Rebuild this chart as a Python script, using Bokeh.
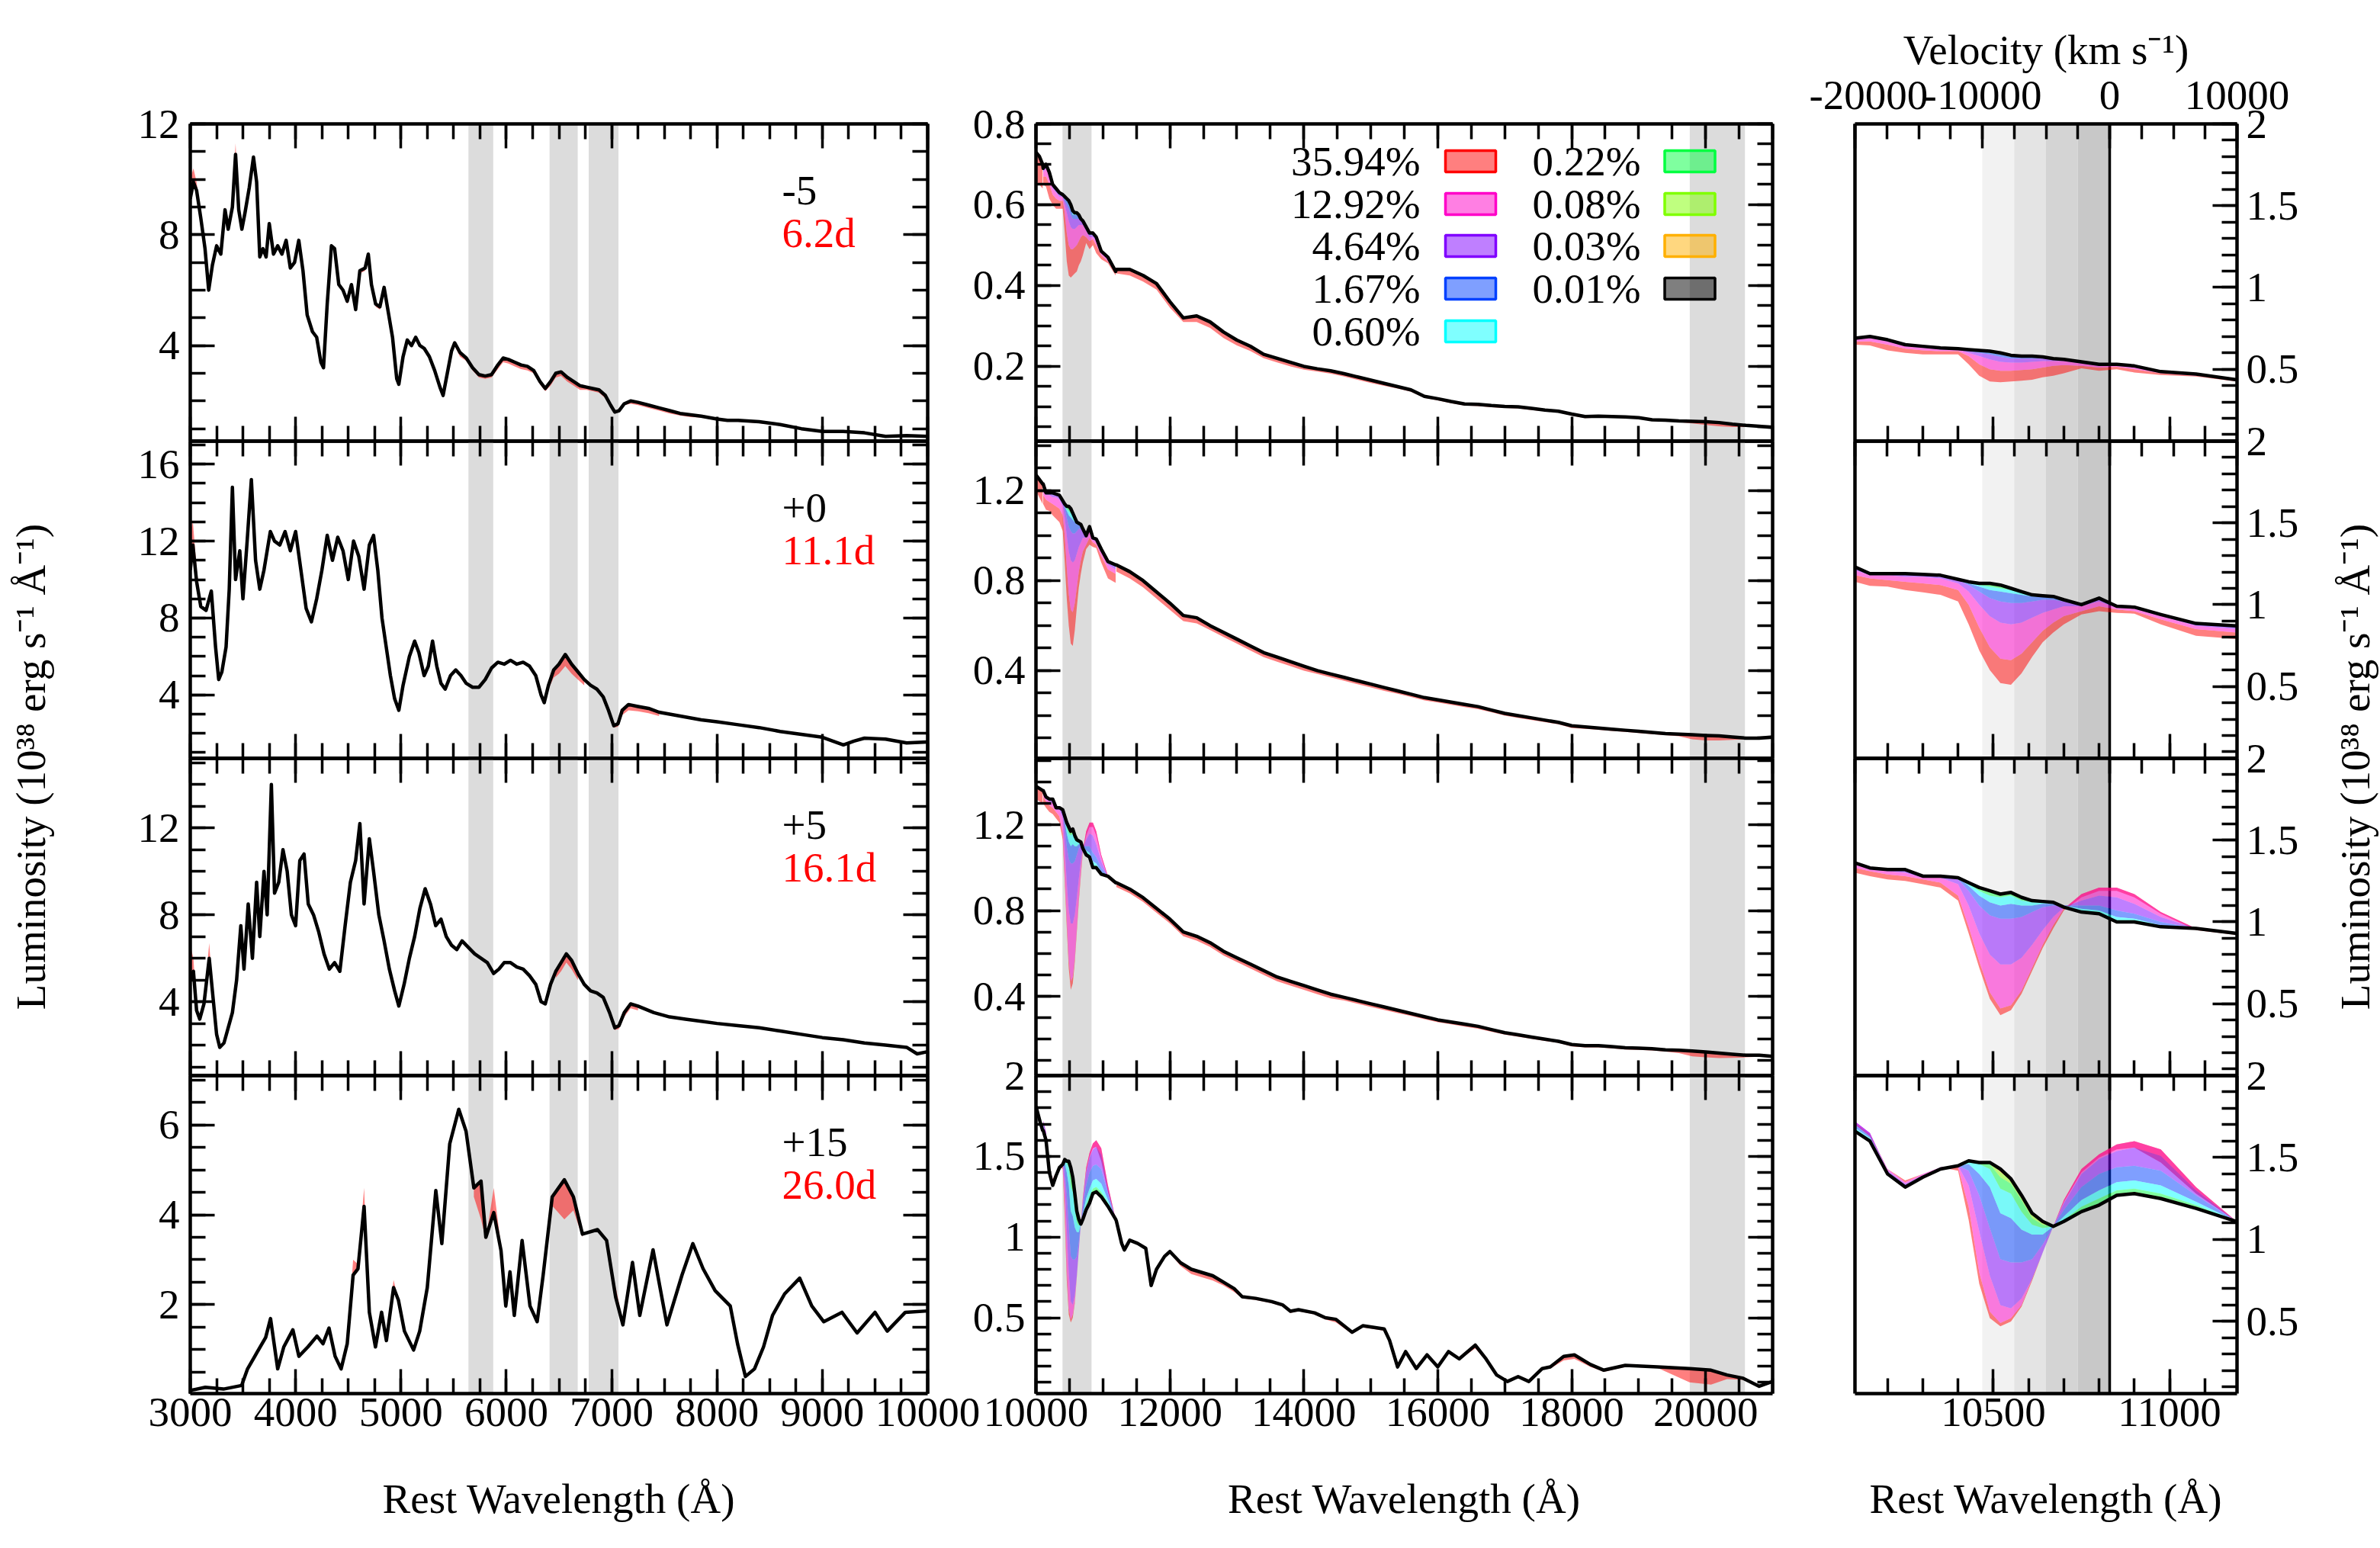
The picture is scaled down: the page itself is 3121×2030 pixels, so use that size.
import math
from bokeh.plotting import figure
from bokeh.models import (Range1d, LinearAxis, SingleIntervalTicker, CustomJSTickFormatter,
                          BoxAnnotation, Span)
from bokeh.layouts import row, column
from bokeh.embed import file_html
from bokeh.resources import INLINE
from bokeh.core.properties import value

FONT = "Liberation Serif"
FS = "55px"
C_KMS = 299792.458

# ---------------- labels / categories ----------------
MODELS = ["35.94%", "12.92%", "4.64%", "1.67%", "0.60%", "0.22%", "0.08%", "0.03%", "0.01%"]
COLORS = ["#ff0000", "#ff00c8", "#8000ff", "#0040ff", "#00ffff", "#00ff40", "#80ff00", "#ffb000", "#000000"]
PHASES = ["-5", "+0", "+5", "+15"]
EPOCHS = ["6.2d", "11.1d", "16.1d", "26.0d"]
YTITLE = "Luminosity (10\u00b3\u2078 erg s\u207b\u00b9 \u00c5\u207b\u00b9)"
XTITLE = "Rest Wavelength (\u00c5)"
VTITLE = "Velocity (km s\u207b\u00b9)"

HE_OPT = [5876, 6678, 7065]
HE_NIR = [10830, 20587]
BAND_V = -12000
HE_ZOOM = 10830
ZOOM_V = (-20000, 10000)
SHADE_V = [-10000, -7500, -5000, -2500, 0]
SHADE_COLORS = ["#f2f2f2", "#e4e4e4", "#d4d4d4", "#c8c8c8"]

OPT_YR = [(0.55, 12.0), (0.7, 17.2), (0.6, 15.2), (0.02, 7.1)]
NIR_YR = [(0.015, 0.8), (0.01, 1.42), (0.03, 1.51), (0.03, 2.0)]
ZOOM_YR = (0.06, 2.0)
OPT_TICK = [4, 4, 4, 2]
NIR_TICK = [(0.2, 4), (0.4, 4), (0.4, 4), (0.5, 5)]

# ---------------- optical spectra (0.01% model = black) ----------------
OPT_W1 = [3000,3030,3060,3100,3140,3175,3210,3250,3290,3330,3360,3400,3430,3460,3490,3520,3560,3600,3630,3660,
          3690,3720,3750,3790,3830,3870,3910,3950,3990,4030,4070,4110,4160,4200,4240,4265,4300,4340,4370,4410,
          4450,4490,4530,4570,4610,4660,4690,4720,4760,4800,4840,4880,4920,4960,4980,5020,5060,5100,5140,5180,
          5220,5270,5320,5370,5400,5440,5480,5510,5560,5620,5680,5740,5800,5860,5920,5970,6020,6080,6140,6200,
          6260,6320,6370,6420,6470,6520,6580,6640,6700,6760,6820,6880,6940,6990,7030,7070,7120,7180,7250,7350,
          7450,7550,7650,7750,7850,8000,8100,8200,8400,8600,8800,9000,9200,9400,9600,9800,10000]
OPT_K1 = [9.3,9.9,9.6,8.6,7.5,6.0,6.9,7.6,7.3,8.9,8.2,9.0,10.9,8.9,8.2,8.8,9.7,10.8,9.9,7.2,
          7.5,7.2,8.4,7.3,7.6,7.3,7.8,6.8,7.0,7.8,6.7,5.1,4.5,4.3,3.4,3.2,5.5,7.6,7.5,6.2,
          6.0,5.6,6.2,5.3,6.7,6.8,7.3,6.2,5.5,5.4,6.1,5.2,4.3,2.8,2.6,3.6,4.2,4.0,4.3,4.0,
          3.9,3.6,3.1,2.5,2.2,3.0,3.8,4.1,3.75,3.55,3.2,2.95,2.9,2.95,3.3,3.55,3.5,3.4,3.3,3.25,
          3.1,2.7,2.45,2.7,3.0,3.05,2.85,2.7,2.55,2.5,2.45,2.4,2.2,1.85,1.6,1.65,1.9,2.0,1.95,1.85,
          1.75,1.65,1.55,1.5,1.45,1.35,1.3,1.3,1.25,1.15,1.0,0.9,0.9,0.85,0.72,0.75,0.72]
OPT_R1 = [10.0,10.4,9.9,8.7,7.5,6.0,6.9,7.7,7.3,9.0,8.2,9.1,11.3,9.0,8.2,8.8,9.7,10.8,9.9,7.2,
          7.5,7.2,8.4,7.3,7.6,7.3,7.8,6.8,7.0,7.8,6.6,5.1,4.5,4.3,3.4,3.2,5.5,7.6,7.4,6.1,
          6.0,5.5,6.2,5.3,6.6,6.7,7.2,6.1,5.4,5.3,6.0,5.1,4.3,2.8,2.6,3.6,4.2,4.0,4.3,4.0,
          3.9,3.6,3.1,2.5,2.2,3.0,3.8,4.0,3.6,3.45,3.1,2.85,2.8,2.85,3.15,3.4,3.35,3.25,3.15,3.1,
          3.0,2.6,2.35,2.55,2.85,2.9,2.7,2.55,2.4,2.4,2.35,2.3,2.1,1.8,1.55,1.6,1.85,1.9,1.85,1.75,
          1.65,1.55,1.47,1.42,1.4,1.3,1.25,1.25,1.2,1.1,0.96,0.86,0.86,0.83,0.7,0.72,0.7]

OPT_W2 = [3000,3025,3060,3100,3150,3200,3240,3270,3300,3340,3370,3400,3430,3470,3500,3540,3580,3620,3660,3700,
          3760,3800,3850,3900,3950,4000,4050,4100,4150,4200,4250,4300,4350,4400,4450,4500,4550,4600,4650,4700,
          4740,4780,4820,4860,4900,4940,4980,5020,5080,5130,5170,5220,5260,5300,5340,5380,5420,5470,5520,5570,
          5620,5680,5740,5800,5860,5920,5980,6040,6100,6160,6220,6280,6330,6360,6400,6450,6500,6560,6620,6680,
          6740,6800,6860,6920,6970,7020,7060,7100,7160,7250,7350,7450,7550,7650,7750,7850,8000,8200,8400,8600,
          8800,9000,9100,9200,9300,9400,9600,9800,10000]
OPT_K2 = [10.5,11.8,9.9,8.6,8.4,9.4,6.5,4.8,5.2,6.5,9.5,14.8,10.0,11.5,9.0,12.0,15.2,11.0,9.5,10.5,
          12.5,12.0,11.8,12.5,11.5,12.5,10.5,8.5,7.8,9.0,10.5,12.3,11.0,12.2,11.5,10.0,12.0,11.2,9.5,11.8,
          12.3,10.5,8.0,6.5,5.0,3.8,3.2,4.5,6.0,6.8,6.2,5.0,5.5,6.8,5.5,4.6,4.3,5.0,5.3,5.0,
          4.6,4.4,4.4,4.8,5.4,5.7,5.6,5.8,5.6,5.7,5.5,5.0,4.0,3.6,4.5,5.3,5.6,6.1,5.6,5.2,
          4.8,4.5,4.3,3.9,3.2,2.4,2.5,3.2,3.5,3.4,3.3,3.1,3.0,2.9,2.8,2.7,2.6,2.45,2.3,2.1,
          1.95,1.8,1.6,1.4,1.6,1.75,1.7,1.5,1.55]

OPT_W3 = [3000,3030,3060,3090,3130,3180,3210,3250,3280,3320,3360,3400,3440,3480,3510,3550,3590,3630,3660,3700,
          3730,3770,3800,3840,3880,3920,3960,4000,4040,4080,4120,4170,4220,4270,4320,4370,4420,4470,4520,4570,
          4610,4650,4700,4740,4790,4840,4890,4940,4980,5030,5080,5130,5180,5230,5280,5330,5380,5430,5480,5530,
          5580,5640,5700,5760,5820,5880,5930,5980,6040,6100,6160,6220,6280,6330,6370,6420,6470,6520,6570,6620,
          6680,6740,6800,6860,6920,6980,7030,7070,7120,7180,7250,7400,7550,7700,7850,8000,8200,8400,8600,8800,
          9000,9200,9400,9600,9800,9900,10000]
OPT_K3 = [5.0,5.4,3.6,3.2,3.9,6.0,4.5,2.5,1.9,2.1,2.8,3.5,5.0,7.5,5.5,8.5,6.0,9.5,7.0,10.0,
          8.0,14.0,9.0,9.5,11.0,10.0,8.0,7.5,10.5,10.8,8.5,8.0,7.2,6.2,5.5,5.8,5.4,7.5,9.5,10.5,
          12.2,8.5,11.5,10.0,8.0,6.8,5.5,4.5,3.8,4.8,6.0,7.0,8.3,9.2,8.5,7.5,7.8,7.0,6.6,6.4,
          6.8,6.5,6.2,6.0,5.8,5.3,5.5,5.8,5.8,5.6,5.5,5.2,4.8,4.0,3.9,4.8,5.4,5.8,6.2,5.9,
          5.3,4.8,4.5,4.4,4.2,3.5,2.8,2.9,3.5,3.9,3.8,3.5,3.3,3.2,3.1,3.0,2.9,2.8,2.65,2.5,
          2.35,2.25,2.1,2.0,1.9,1.6,1.7]

OPT_W4 = [3000,3143,3315,3487,3544,3630,3716,3762,3830,3888,3974,4031,4117,4203,4260,4317,4375,4432,4490,4546,
          4592,4650,4700,4758,4816,4862,4930,4976,5033,5120,5178,5250,5331,5388,5463,5549,5618,5692,5760,5806,
          5881,5950,5995,6035,6076,6150,6225,6293,6350,6436,6551,6637,6723,6866,6952,7038,7107,7198,7267,7393,
          7525,7668,7771,7868,7983,8126,8195,8270,8356,8442,8527,8642,8785,8900,9014,9186,9330,9500,9616,9788,
          10000]
OPT_K4 = [0.09,0.16,0.12,0.2,0.57,0.92,1.27,1.69,0.57,1.06,1.44,0.85,1.06,1.3,1.13,1.48,0.85,0.57,1.13,2.66,
          2.8,4.19,1.83,1.06,1.83,1.2,2.38,2.1,1.41,0.99,1.41,2.38,4.54,3.36,5.58,6.35,5.86,4.6,4.75,3.5,
          4.05,3.2,1.97,2.73,1.76,3.43,1.97,1.62,2.66,4.4,4.78,4.4,3.57,3.67,3.43,2.17,1.55,2.94,1.76,3.22,
          1.55,2.66,3.36,2.8,2.31,1.97,1.13,0.4,0.57,1.06,1.76,2.24,2.59,1.97,1.62,1.83,1.37,1.83,1.41,1.83,
          1.86]

# 35.94% model where it departs from the black spectrum (wavelengths on the same grid)
OPT_RED2 = [([3000,3025,3060,3100], [12.5,13.0,10.6,8.7]),
            ([6400,6450,6500,6560,6620,6680,6740], [4.3,4.9,5.1,5.5,5.1,4.8,4.5]),
            ([6970,7020,7060,7100,7160,7250,7350,7450], [3.0,2.3,2.35,2.95,3.2,3.15,3.05,2.9])]
OPT_RED3 = [([3000,3030,3060], [6.6,6.0,3.7]),
            ([3130,3180,3210], [4.0,6.7,4.6]),
            ([6470,6520,6570,6620,6680], [5.1,5.4,5.8,5.5,5.0]),
            ([7030,7070,7120,7180,7250], [2.7,2.75,3.3,3.7,3.6])]
OPT_RED4 = [([4490,4546,4592,4650,4700], [1.15,3.0,2.9,4.6,1.85]),
            ([4862,4930,4976], [1.25,2.55,2.1]),
            ([5692,5760,5806,5881,5950], [4.4,3.9,3.45,4.6,3.3]),
            ([6350,6436,6551,6637,6723], [2.6,4.2,3.9,4.1,3.5]),
            ([7038,7107], [2.4,1.6])]

# ---------------- NIR spectra ----------------
NIR_W = [10000, 10050, 10100] + list(range(11200, 21001, 200))
NIR_K1 = [0.73,0.72,0.70,
          0.44,0.44,0.425,0.405,0.36,0.32,0.325,0.31,0.285,0.265,
          0.25,0.23,0.22,0.21,0.20,0.194,0.189,0.182,0.174,0.166,
          0.158,0.15,0.142,0.126,0.12,0.113,0.107,0.106,0.103,0.101,
          0.10,0.096,0.092,0.089,0.082,0.076,0.077,0.076,0.075,0.073,
          0.068,0.067,0.065,0.064,0.063,0.061,0.057,0.054,0.052,0.049]
NIR_R1 = [0.66,0.65,0.64,
          0.43,0.425,0.41,0.39,0.345,0.31,0.31,0.295,0.27,0.252,
          0.238,0.22,0.21,0.2,0.192,0.187,0.182,0.175,0.167,0.159,
          0.152,0.145,0.137,0.122,0.116,0.109,0.103,0.102,0.099,0.097,
          0.096,0.092,0.089,0.086,0.078,0.072,0.073,0.073,0.072,0.07,
          0.065,0.064,0.062,0.059,0.055,0.052,0.05,0.05,0.05,0.048]
NIR_K2 = [1.27,1.25,1.23,
          0.87,0.84,0.80,0.75,0.70,0.645,0.635,0.60,0.57,0.54,
          0.51,0.48,0.46,0.44,0.42,0.40,0.385,0.37,0.355,0.34,
          0.325,0.31,0.295,0.28,0.27,0.26,0.25,0.24,0.225,0.21,
          0.20,0.19,0.18,0.17,0.155,0.15,0.145,0.14,0.135,0.13,
          0.125,0.12,0.118,0.115,0.112,0.11,0.105,0.10,0.10,0.105]
NIR_R2 = [1.20,1.17,1.14,
          0.84,0.81,0.77,0.72,0.67,0.62,0.61,0.58,0.55,0.52,
          0.49,0.46,0.44,0.42,0.40,0.385,0.37,0.355,0.34,0.325,
          0.31,0.297,0.283,0.268,0.258,0.248,0.238,0.229,0.215,0.2,
          0.19,0.18,0.171,0.162,0.145,0.141,0.137,0.132,0.128,0.123,
          0.118,0.113,0.108,0.095,0.09,0.09,0.092,0.095,0.097,0.102]
NIR_K3 = [1.38,1.37,1.36,
          0.93,0.90,0.86,0.81,0.76,0.70,0.68,0.65,0.61,0.58,
          0.55,0.52,0.49,0.47,0.45,0.43,0.41,0.395,0.38,0.365,
          0.35,0.335,0.32,0.305,0.29,0.28,0.27,0.26,0.245,0.23,
          0.22,0.21,0.20,0.19,0.175,0.17,0.17,0.165,0.16,0.158,
          0.155,0.15,0.148,0.145,0.14,0.135,0.13,0.125,0.125,0.12]
NIR_R3 = [1.32,1.31,1.30,
          0.91,0.88,0.84,0.79,0.74,0.68,0.66,0.63,0.59,0.56,
          0.53,0.50,0.47,0.45,0.43,0.41,0.39,0.38,0.365,0.35,
          0.336,0.322,0.308,0.293,0.279,0.269,0.259,0.249,0.235,0.221,
          0.211,0.202,0.192,0.183,0.166,0.162,0.162,0.157,0.152,0.15,
          0.147,0.142,0.135,0.12,0.115,0.112,0.113,0.115,0.118,0.115]
NIR_W4 = [10000,10064,10100,11200,11280,11320,11400,11520,11640,11720,11800,11920,12000,
          12160,12320,12480,12640,12800,12960,13080,13280,13520,13680,
          13800,13920,14160,14320,14480,14720,14880,15200,15280,15400,
          15520,15680,15840,16000,16160,16320,16560,16720,16880,17040,
          17200,17360,17560,17680,17880,18040,18280,18480,18800,19280,
          19760,20080,20320,20560,20800,21000]
NIR_K4 = [1.81,1.71,1.66,1.10,0.96,0.92,0.98,0.96,0.93,0.70,0.80,0.88,0.91,
          0.84,0.80,0.78,0.76,0.72,0.68,0.63,0.62,0.60,0.58,
          0.54,0.55,0.53,0.50,0.49,0.41,0.45,0.43,0.36,0.195,
          0.29,0.185,0.27,0.195,0.29,0.245,0.33,0.245,0.145,0.105,
          0.135,0.105,0.185,0.195,0.26,0.27,0.21,0.175,0.205,0.195,
          0.185,0.175,0.145,0.125,0.075,0.105]
NIR_R4 = [1.81,1.72,1.70,1.10,0.96,0.92,0.98,0.96,0.93,0.70,0.80,0.88,0.90,
          0.82,0.77,0.75,0.73,0.70,0.66,0.62,0.61,0.59,0.57,
          0.53,0.54,0.52,0.49,0.47,0.40,0.44,0.42,0.35,0.19,
          0.28,0.18,0.26,0.19,0.28,0.24,0.31,0.235,0.14,0.10,
          0.13,0.10,0.18,0.185,0.235,0.245,0.195,0.165,0.195,0.19,
          0.10,0.085,0.12,0.115,0.07,0.10]

# ---------------- He I 10830 region, all nine models (order as MODELS) ----------------
ZW = [10108,10150,10200,10250,10300,10350,10400,10430,10460,10490,10520,10550,
      10580,10610,10640,10670,10700,10750,10800,10850,10900,10975,11075,11190]
Z1 = [
 [0.65,0.645,0.615,0.60,0.59,0.59,0.59,0.53,0.46,0.425,0.42,0.425,0.43,0.435,0.45,0.46,0.475,0.505,0.49,0.50,0.48,0.465,0.455,0.425],
 [0.67,0.67,0.65,0.625,0.615,0.61,0.61,0.58,0.53,0.50,0.49,0.49,0.495,0.50,0.51,0.52,0.525,0.52,0.51,0.515,0.50,0.475,0.46,0.43],
 [0.68,0.69,0.67,0.64,0.63,0.62,0.62,0.60,0.58,0.56,0.545,0.54,0.54,0.545,0.55,0.55,0.55,0.535,0.52,0.52,0.51,0.48,0.465,0.435],
 [0.685,0.695,0.675,0.645,0.635,0.625,0.62,0.61,0.60,0.59,0.575,0.565,0.565,0.565,0.565,0.56,0.555,0.54,0.525,0.525,0.515,0.485,0.47,0.435],
 [0.69,0.70,0.68,0.65,0.64,0.63,0.625,0.615,0.61,0.60,0.59,0.575,0.575,0.575,0.57,0.565,0.56,0.545,0.53,0.53,0.52,0.485,0.47,0.435],
 [0.69,0.70,0.68,0.65,0.64,0.63,0.625,0.62,0.612,0.605,0.595,0.58,0.578,0.578,0.572,0.565,0.56,0.545,0.53,0.53,0.52,0.485,0.47,0.435],
 [0.69,0.70,0.68,0.65,0.64,0.63,0.625,0.62,0.614,0.608,0.598,0.583,0.579,0.579,0.574,0.565,0.56,0.545,0.53,0.53,0.52,0.485,0.47,0.435],
 [0.69,0.70,0.68,0.65,0.64,0.63,0.625,0.62,0.615,0.61,0.60,0.585,0.58,0.58,0.575,0.565,0.56,0.545,0.53,0.53,0.52,0.485,0.47,0.435],
 [0.69,0.70,0.68,0.65,0.64,0.63,0.625,0.62,0.615,0.61,0.60,0.585,0.58,0.58,0.575,0.565,0.56,0.545,0.53,0.53,0.52,0.485,0.47,0.435],
]
Z2 = [
 [1.14,1.115,1.11,1.09,1.075,1.06,1.02,0.88,0.72,0.60,0.52,0.51,0.58,0.68,0.77,0.83,0.88,0.94,0.96,0.95,0.945,0.88,0.81,0.79],
 [1.18,1.16,1.15,1.14,1.13,1.12,1.09,1.00,0.86,0.74,0.67,0.66,0.70,0.77,0.84,0.89,0.93,0.96,0.99,0.97,0.96,0.91,0.85,0.83],
 [1.21,1.18,1.18,1.17,1.17,1.16,1.13,1.08,1.00,0.93,0.89,0.88,0.89,0.92,0.95,0.97,0.99,0.99,1.02,0.98,0.975,0.93,0.87,0.85],
 [1.22,1.19,1.19,1.18,1.18,1.17,1.15,1.12,1.08,1.04,1.02,1.01,1.01,1.02,1.03,1.03,1.02,1.00,1.03,0.99,0.98,0.935,0.88,0.86],
 [1.23,1.19,1.19,1.19,1.18,1.18,1.155,1.13,1.11,1.09,1.08,1.07,1.06,1.05,1.05,1.04,1.03,1.00,1.04,0.99,0.985,0.94,0.885,0.87],
 [1.23,1.19,1.19,1.19,1.185,1.18,1.155,1.14,1.12,1.11,1.10,1.09,1.07,1.055,1.05,1.05,1.03,1.00,1.04,0.99,0.985,0.94,0.885,0.87],
 [1.23,1.19,1.19,1.19,1.185,1.18,1.155,1.14,1.13,1.12,1.11,1.10,1.08,1.06,1.055,1.05,1.03,1.00,1.04,0.99,0.985,0.94,0.885,0.87],
 [1.23,1.19,1.19,1.19,1.185,1.18,1.155,1.14,1.13,1.13,1.12,1.10,1.08,1.06,1.055,1.05,1.03,1.00,1.04,0.99,0.985,0.94,0.885,0.87],
 [1.23,1.19,1.19,1.19,1.185,1.18,1.155,1.14,1.13,1.13,1.12,1.10,1.08,1.06,1.055,1.05,1.03,1.00,1.04,0.99,0.985,0.94,0.885,0.87],
]
Z3 = [
 [1.30,1.28,1.26,1.25,1.23,1.21,1.13,0.93,0.72,0.53,0.43,0.46,0.56,0.70,0.84,0.96,1.07,1.15,1.19,1.19,1.15,1.05,0.95,0.92],
 [1.33,1.31,1.29,1.28,1.26,1.24,1.16,0.97,0.76,0.57,0.47,0.49,0.58,0.72,0.86,0.98,1.08,1.17,1.21,1.21,1.17,1.06,0.96,0.93],
 [1.35,1.32,1.31,1.30,1.27,1.27,1.23,1.10,0.93,0.80,0.74,0.74,0.78,0.86,0.95,1.03,1.09,1.13,1.16,1.15,1.11,1.03,0.96,0.93],
 [1.36,1.33,1.32,1.31,1.28,1.28,1.26,1.19,1.10,1.04,1.02,1.02,1.03,1.06,1.09,1.10,1.10,1.10,1.10,1.07,1.05,1.00,0.96,0.93],
 [1.36,1.33,1.32,1.32,1.28,1.28,1.27,1.22,1.16,1.12,1.10,1.11,1.10,1.10,1.11,1.11,1.10,1.08,1.07,1.03,1.02,0.98,0.96,0.93],
 [1.36,1.33,1.32,1.32,1.28,1.28,1.27,1.23,1.19,1.16,1.15,1.16,1.13,1.12,1.12,1.115,1.09,1.07,1.06,1.01,1.01,0.975,0.96,0.93],
 [1.36,1.33,1.32,1.32,1.28,1.28,1.27,1.24,1.20,1.18,1.16,1.17,1.14,1.125,1.12,1.12,1.09,1.06,1.05,1.00,1.00,0.97,0.96,0.93],
 [1.36,1.33,1.32,1.32,1.28,1.28,1.27,1.24,1.21,1.19,1.17,1.18,1.15,1.13,1.125,1.12,1.09,1.06,1.05,1.00,1.00,0.97,0.96,0.93],
 [1.36,1.33,1.32,1.32,1.28,1.28,1.27,1.24,1.21,1.19,1.17,1.18,1.15,1.13,1.125,1.12,1.09,1.06,1.05,1.00,1.00,0.97,0.96,0.93],
]
Z4 = [
 [1.70,1.63,1.43,1.36,1.40,1.44,1.42,1.12,0.73,0.52,0.47,0.50,0.59,0.75,0.92,1.08,1.23,1.41,1.50,1.55,1.56,1.47,1.28,1.11],
 [1.71,1.64,1.43,1.35,1.40,1.44,1.44,1.20,0.80,0.56,0.49,0.52,0.60,0.76,0.92,1.08,1.24,1.43,1.52,1.58,1.60,1.55,1.32,1.11],
 [1.72,1.65,1.42,1.34,1.39,1.44,1.45,1.33,1.05,0.78,0.60,0.58,0.64,0.76,0.92,1.08,1.22,1.40,1.49,1.54,1.56,1.51,1.30,1.11],
 [1.70,1.63,1.41,1.33,1.39,1.43,1.45,1.42,1.27,1.07,0.88,0.86,0.86,0.88,0.97,1.08,1.18,1.32,1.40,1.44,1.45,1.42,1.27,1.11],
 [1.68,1.62,1.41,1.33,1.38,1.43,1.45,1.46,1.40,1.32,1.16,1.13,1.06,1.03,1.03,1.08,1.14,1.24,1.30,1.35,1.36,1.33,1.23,1.11],
 [1.67,1.61,1.40,1.32,1.38,1.43,1.45,1.47,1.46,1.43,1.31,1.28,1.17,1.09,1.07,1.08,1.12,1.20,1.25,1.30,1.31,1.28,1.21,1.11],
 [1.66,1.60,1.40,1.32,1.38,1.43,1.45,1.48,1.47,1.46,1.38,1.34,1.24,1.13,1.09,1.08,1.11,1.18,1.22,1.28,1.29,1.26,1.20,1.11],
 [1.66,1.60,1.40,1.32,1.38,1.43,1.45,1.48,1.47,1.47,1.41,1.36,1.26,1.15,1.10,1.08,1.11,1.17,1.21,1.27,1.28,1.25,1.19,1.11],
 [1.66,1.60,1.40,1.32,1.38,1.43,1.45,1.48,1.47,1.47,1.43,1.37,1.27,1.16,1.11,1.08,1.11,1.17,1.21,1.27,1.28,1.25,1.19,1.11],
]

OPT_W = [OPT_W1, OPT_W2, OPT_W3, OPT_W4]
OPT_K = [OPT_K1, OPT_K2, OPT_K3, OPT_K4]
OPT_RED = [[(OPT_W1, OPT_R1)], OPT_RED2, OPT_RED3, OPT_RED4]
NIR_WS = [NIR_W, NIR_W, NIR_W, NIR_W4]
NIR_KS = [NIR_K1, NIR_K2, NIR_K3, NIR_K4]
NIR_RS = [NIR_R1, NIR_R2, NIR_R3, NIR_R4]
ZS = [Z1, Z2, Z3, Z4]

for a, b in zip(OPT_W, OPT_K):
    assert len(a) == len(b)
assert len(OPT_R1) == len(OPT_W1)
for a, b, c in zip(NIR_WS, NIR_KS, NIR_RS):
    assert len(a) == len(b) == len(c)
for z in ZS:
    for m in z:
        assert len(m) == len(ZW)

# ---------------- layout (pixels) ----------------
COLS = {"L": dict(fx=249, fw=967, bl=149, br=100),
        "M": dict(fx=1358, fw=966, bl=150, br=60),
        "R": dict(fx=2432, fw=501, bl=60, br=100)}
ROW_FH = [416, 416, 416, 417]
ROW_BT = [162, 40, 40, 40]
ROW_BB = [40, 40, 40, 203]
LW_SPEC = 4.5
LW_AXIS = 4.5
LW_TICK = 3.5


def vshift(lam, v):
    return lam * (1.0 + v / C_KMS)


FMT = CustomJSTickFormatter(code="return String(Number(tick.toFixed(4)));")


def make_fig(col, r, xr, yr):
    c = COLS[col]
    p = figure(width=c["bl"] + c["fw"] + c["br"], height=ROW_BT[r] + ROW_FH[r] + ROW_BB[r],
               x_range=Range1d(*xr), y_range=Range1d(*yr),
               x_axis_location=None, y_axis_location=None,
               toolbar_location=None, output_backend="svg",
               min_border_left=c["bl"], min_border_right=c["br"],
               min_border_top=ROW_BT[r], min_border_bottom=ROW_BB[r])
    p.outline_line_color = None
    p.border_fill_color = None
    p.background_fill_color = None
    p.grid.visible = False
    return p


def add_axis(p, side, ticker, labels=False, ticks=True, range_name=None, title=None,
             standoff=12, title_standoff=10):
    kw = {}
    if range_name is not None:
        kw["x_range_name"] = range_name
    ax = LinearAxis(ticker=ticker, formatter=FMT, **kw)
    ax.axis_line_width = LW_AXIS
    ax.axis_line_color = "black"
    ax.major_tick_in = 32 if ticks else 0
    ax.minor_tick_in = 20 if ticks else 0
    ax.major_tick_out = 0
    ax.minor_tick_out = 0
    ax.major_tick_line_width = LW_TICK
    ax.minor_tick_line_width = LW_TICK
    ax.major_tick_line_color = "black" if ticks else None
    ax.minor_tick_line_color = "black" if ticks else None
    ax.major_label_text_font = FONT
    ax.major_label_text_font_size = FS
    ax.major_label_text_color = "black" if labels else None
    ax.major_label_standoff = standoff if labels else 0
    if title:
        ax.axis_label = title
        ax.axis_label_text_font = FONT
        ax.axis_label_text_font_size = FS
        ax.axis_label_text_font_style = "normal"
        ax.axis_label_text_color = "black"
        ax.axis_label_standoff = title_standoff
    p.add_layout(ax, side)
    return ax


def px_x(col, px, xr):
    c = COLS[col]
    return xr[0] + (px - c["fx"]) / c["fw"] * (xr[1] - xr[0])


def px_y(r, off, yr):
    return yr[1] - off / ROW_FH[r] * (yr[1] - yr[0])


def bands(p, x, curves):
    for i in range(len(curves) - 1):
        p.varea(x=x, y1=curves[i], y2=curves[i + 1], fill_color=COLORS[i], fill_alpha=0.5)


def black_line(p, x, y):
    p.line(x=x, y=y, line_color="black", line_width=LW_SPEC, line_join="round")


col_L, col_M, col_R = [], [], []
for r in range(4):
    last = (r == 3)
    # ---------- optical ----------
    xr = (3000, 10000)
    yr = OPT_YR[r]
    p = make_fig("L", r, xr, yr)
    for lam in HE_OPT:
        p.add_layout(BoxAnnotation(left=vshift(lam, BAND_V), right=lam, fill_color="#dcdcdc",
                                   fill_alpha=1.0, line_color=None, level="underlay"))
    for rw, rf in OPT_RED[r]:
        kv = [OPT_K[r][OPT_W[r].index(w)] for w in rw]
        p.varea(x=rw, y1=rf, y2=kv, fill_color=COLORS[0], fill_alpha=0.5)
    black_line(p, OPT_W[r], OPT_K[r])
    tx = px_x("L", 1025, xr)
    p.text(x=[tx], y=[px_y(r, 87, yr)], text=[PHASES[r]], text_font=value(FONT), text_font_size=FS,
           text_color="black", text_align="left", text_baseline="middle")
    p.text(x=[tx], y=[px_y(r, 143, yr)], text=[EPOCHS[r]], text_font=value(FONT), text_font_size=FS,
           text_color="#ff0000", text_align="left", text_baseline="middle")
    xt = SingleIntervalTicker(interval=1000, num_minor_ticks=4)
    yt = SingleIntervalTicker(interval=OPT_TICK[r], num_minor_ticks=4)
    add_axis(p, "below", xt, labels=last, title=XTITLE if last else None, standoff=6, title_standoff=62)
    add_axis(p, "above", xt)
    add_axis(p, "left", yt, labels=True, standoff=14)
    add_axis(p, "right", yt)
    col_L.append(p)

    # ---------- NIR ----------
    xr = (10000, 21000)
    yr = NIR_YR[r]
    p = make_fig("M", r, xr, yr)
    for lam in HE_NIR:
        p.add_layout(BoxAnnotation(left=vshift(lam, BAND_V), right=lam, fill_color="#dcdcdc",
                                   fill_alpha=1.0, line_color=None, level="underlay"))
    NW, NK, NR = NIR_WS[r], NIR_KS[r], NIR_RS[r]
    pre = [i for i, w in enumerate(NW) if w < ZW[0]]
    post = [i for i, w in enumerate(NW) if w > ZW[-1]]
    for idx in (pre, post):
        p.varea(x=[NW[i] for i in idx], y1=[NR[i] for i in idx], y2=[NK[i] for i in idx],
                fill_color=COLORS[0], fill_alpha=0.5)
    bands(p, ZW, ZS[r])
    bx = [NW[i] for i in pre] + ZW + [NW[i] for i in post]
    by = [NK[i] for i in pre] + ZS[r][-1] + [NK[i] for i in post]
    black_line(p, bx, by)
    xt = SingleIntervalTicker(interval=2000, num_minor_ticks=4)
    yt = SingleIntervalTicker(interval=NIR_TICK[r][0], num_minor_ticks=NIR_TICK[r][1])
    add_axis(p, "below", xt, labels=last, title=XTITLE if last else None, standoff=6, title_standoff=62)
    add_axis(p, "above", xt)
    add_axis(p, "left", yt, labels=True, standoff=14)
    add_axis(p, "right", yt)
    if r == 0:
        # legend
        rows_off = [49, 105, 160, 216, 272]
        for i, lab in enumerate(MODELS):
            ccol, k = (0, i) if i < 5 else (1, i - 5)
            sw_x = [1928, 2215.5][ccol]
            lab_x = [1862, 2151][ccol]
            yy = px_y(0, rows_off[k], yr)
            p.rect(x=[px_x("M", sw_x, xr)], y=[yy], width=66, height=28, width_units="screen",
                   height_units="screen", fill_color=COLORS[i], fill_alpha=0.5,
                   line_color=COLORS[i], line_width=3.5)
            p.text(x=[px_x("M", lab_x, xr)], y=[yy], text=[lab], text_font=value(FONT),
                   text_font_size=FS, text_color="black", text_align="right", text_baseline="middle")
    col_M.append(p)

    # ---------- He I 10830 zoom ----------
    xr = (vshift(HE_ZOOM, ZOOM_V[0]), vshift(HE_ZOOM, ZOOM_V[1]))
    yr = ZOOM_YR
    p = make_fig("R", r, xr, yr)
    p.extra_x_ranges = {"vel": Range1d(*ZOOM_V)}
    for i in range(4):
        p.add_layout(BoxAnnotation(left=vshift(HE_ZOOM, SHADE_V[i]), right=vshift(HE_ZOOM, SHADE_V[i + 1]),
                                   fill_color=SHADE_COLORS[i], fill_alpha=1.0, line_color=None,
                                   level="underlay"))
    p.add_layout(Span(location=HE_ZOOM, dimension="height", line_color="black", line_width=3.5,
                      level="underlay"))
    bands(p, ZW, ZS[r])
    black_line(p, ZW, ZS[r][-1])
    xt = SingleIntervalTicker(interval=500, num_minor_ticks=5)
    vt = SingleIntervalTicker(interval=10000, num_minor_ticks=4)
    yt = SingleIntervalTicker(interval=0.5, num_minor_ticks=5)
    add_axis(p, "below", xt, labels=last, title=XTITLE if last else None, standoff=6, title_standoff=62)
    add_axis(p, "above", vt, labels=(r == 0), range_name="vel", title=VTITLE if r == 0 else None,
             standoff=20, title_standoff=8)
    add_axis(p, "left", yt, ticks=False)
    add_axis(p, "right", yt, labels=True, standoff=12)
    col_R.append(p)


def title_fig(xc, yc):
    p = figure(width=100, height=2030, x_range=Range1d(0, 100), y_range=Range1d(0, 2030),
               x_axis_location=None, y_axis_location=None, toolbar_location=None,
               output_backend="svg", min_border=0)
    p.outline_line_color = None
    p.border_fill_color = None
    p.background_fill_color = None
    p.grid.visible = False
    p.text(x=[xc], y=[2030 - yc], text=[YTITLE], angle=math.pi / 2, text_font=value(FONT),
           text_font_size=FS, text_color="black", text_align="center", text_baseline="middle")
    return p


for lst in (col_L, col_M, col_R):
    for k in range(1, 4):
        lst[k].margin = (-80, 0, 0, 0)

LT = title_fig(40, 1005)
RT = title_fig(67, 1005)
cL = column(*col_L)
cM = column(*col_M)
cR = column(*col_R)
cM.margin = (0, 0, 0, -108)
cR.margin = (0, 0, 0, -12)
RT.margin = (0, 0, 0, -12)
layout = row(LT, cL, cM, cR, RT)

open("out.html", "w").write(file_html(layout, INLINE))
